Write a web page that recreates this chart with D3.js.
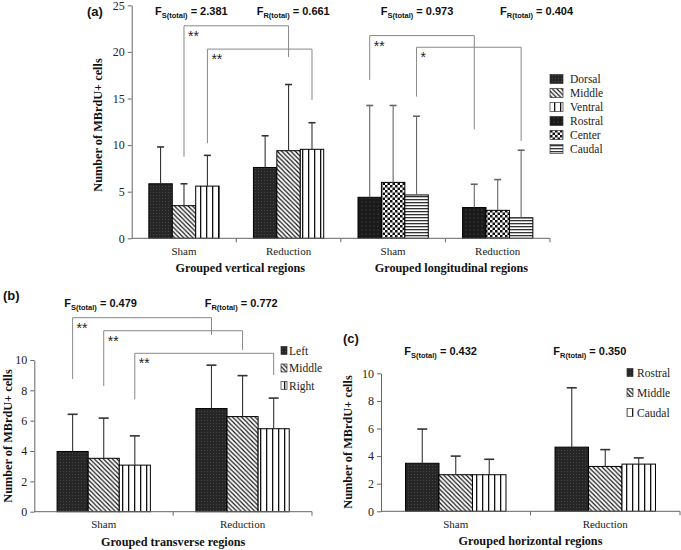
<!DOCTYPE html>
<html>
<head>
<meta charset="utf-8">
<script src="https://cdn.jsdelivr.net/npm/d3@7.9.0/dist/d3.min.js"></script>
<style>
  body { margin: 0; background: #fff; }
  svg { display: block; }
</style>
</head>
<body>
<svg id="chart" width="681" height="550"></svg>
<script>
// ---- data ----
const groups = ['Sham', 'Reduction'];

// (a) grouped vertical regions
const verticalSeries = ['Dorsal', 'Middle', 'Ventral'];
const verticalMeans = [[5.85, 3.5, 5.6], [7.6, 9.4, 9.55]];
const verticalSd = [[3.95, 2.35, 3.3], [3.4, 7.1, 2.85]];

// (a) grouped longitudinal regions
const longitudinalSeries = ['Rostral', 'Center', 'Caudal'];
const longitudinalMeans = [[4.4, 6.0, 4.65], [3.3, 3.0, 2.2]];
const longitudinalSd = [[9.85, 8.25, 8.45], [2.5, 3.3, 7.25]];

// (b) grouped transverse regions
const transverseSeries = ['Left', 'Middle', 'Right'];
const transverseMeans = [[3.97, 3.52, 3.07], [6.8, 6.27, 5.47]];
const transverseSd = [[2.45, 2.65, 1.93], [2.86, 2.7, 2.02]];

// (c) grouped horizontal regions
const horizontalSeries = ['Rostral', 'Middle', 'Caudal'];
const horizontalMeans = [[3.48, 2.65, 2.65], [4.65, 3.25, 3.42]];
const horizontalSd = [[2.48, 1.35, 1.12], [4.3, 1.22, 0.45]];

// F statistics (S = sham, R = reduction)
const fStatsA = [2.381, 0.661, 0.973, 0.404];
const fStatsB = [0.479, 0.772];
const fStatsC = [0.432, 0.350];

// significance brackets: same series Sham -> Reduction, heights in data units
const bracketsVertical = [
  { series: 1, top: 22.8, leftEnd: 8.75, rightEnd: 19.45, mark: '**' },
  { series: 2, top: 20.3, leftEnd: 10.2, rightEnd: 14.85, mark: '**' },
];
const bracketsLongitudinal = [
  { series: 0, top: 21.75, leftEnd: 17.0, rightEnd: 11.7, mark: '**' },
  { series: 2, top: 20.5, leftEnd: 15.2, rightEnd: 10.45, mark: '*' },
];
const bracketsTransverse = [
  { series: 0, top: 12.79, leftEnd: 8.75, rightEnd: 11.65, mark: '**' },
  { series: 1, top: 11.93, leftEnd: 8.29, rightEnd: 10.66, mark: '**' },
  { series: 2, top: 10.44, leftEnd: 7.41, rightEnd: 9.01, mark: '**' },
];

const serif = '"Liberation Serif", "Times New Roman", serif';
const sans = '"Liberation Sans", Arial, sans-serif';

const svg = d3.select('#chart');
const defs = svg.append('defs');

function addPattern(id, w, h, draw) {
  const p = defs.append('pattern')
    .attr('id', id)
    .attr('patternUnits', 'userSpaceOnUse')
    .attr('width', w)
    .attr('height', h);
  draw(p, w, h);
}

addPattern('dense', 3, 3, (p, w, h) => {
  p.append('rect').attr('width', w).attr('height', h).attr('fill', '#262626');
  p.append('rect').attr('width', 1).attr('height', 1).attr('fill', '#474747');
});
addPattern('diag', 4.5, 4.5, (p, w, h) => {
  p.append('rect').attr('width', w).attr('height', h).attr('fill', '#fff');
  p.append('path')
    .attr('d', 'M-1,-1L5.5,5.5M-1,3.5L1,5.5M3.5,-1L5.5,1')
    .attr('stroke', '#111').attr('stroke-width', 1.15);
});
addPattern('vert', 6, 6, (p, w, h) => {
  p.append('rect').attr('width', w).attr('height', h).attr('fill', '#fff');
  p.append('rect').attr('x', 2).attr('width', 1.3).attr('height', h).attr('fill', '#111');
});
addPattern('dots', 4, 4, (p, w, h) => {
  p.append('rect').attr('width', w).attr('height', h).attr('fill', '#1a1a1a');
  p.append('circle').attr('cx', 2).attr('cy', 2).attr('r', 0.6).attr('fill', '#5a5a5a');
});
addPattern('check', 5, 5, (p, w, h) => {
  p.append('rect').attr('width', w).attr('height', h).attr('fill', '#fff');
  p.append('rect').attr('width', 2.5).attr('height', 2.5).attr('fill', '#111');
  p.append('rect').attr('x', 2.5).attr('y', 2.5).attr('width', 2.5).attr('height', 2.5).attr('fill', '#111');
});
addPattern('horiz', 4, 3, (p, w, h) => {
  p.append('rect').attr('width', w).attr('height', h).attr('fill', '#fff');
  p.append('rect').attr('y', 1).attr('width', w).attr('height', 1.3).attr('fill', '#333');
});

const panels = [
  {
    label: '(a)', labelX: 87, labelY: 16,
    left: 131.7, right: 550, top: 5.3, bottom: 238.3, yMax: 25, yStep: 5,
    yTitleX: 97.5, yTitleY: 125, cap: 7,
    sections: [
      { title: 'Grouped vertical regions', series: verticalSeries, means: verticalMeans,
        sds: verticalSd, fills: ['dense', 'diag', 'vert'], err: '#333',
        brackets: bracketsVertical, titleShift: 4 },
      { title: 'Grouped longitudinal regions', series: longitudinalSeries, means: longitudinalMeans,
        sds: longitudinalSd, fills: ['dots', 'check', 'horiz'], err: '#666',
        brackets: bracketsLongitudinal, titleShift: 6 },
    ],
    stats: fStatsA, statX: [155, 256.7, 380.7, 500], statY: 15,
    legendX: 550, legendY: 79, legendStep: 14, swatchW: 13, swatchH: 9, legendTextX: 570,
  },
  {
    label: '(b)', labelX: 3, labelY: 300,
    left: 34.3, right: 312, top: 360, bottom: 511.7, yMax: 10, yStep: 2,
    yTitleX: 8, yTitleY: 436, cap: 10,
    sections: [
      { title: 'Grouped transverse regions', series: transverseSeries, means: transverseMeans,
        sds: transverseSd, fills: ['dense', 'diag', 'vert'], err: '#333',
        brackets: bracketsTransverse, titleShift: 0 },
    ],
    stats: fStatsB, statX: [64.3, 204.7], statY: 307,
    legendX: 281, legendY: 350.5, legendStep: 17.5, swatchW: 6, swatchH: 8, legendTextX: 289,
  },
  {
    label: '(c)', labelX: 343, labelY: 343,
    left: 381, right: 680, top: 373.3, bottom: 511.3, yMax: 10, yStep: 2,
    yTitleX: 348, yTitleY: 442, cap: 10,
    sections: [
      { title: 'Grouped horizontal regions', series: horizontalSeries, means: horizontalMeans,
        sds: horizontalSd, fills: ['dense', 'diag', 'vert'], err: '#333',
        brackets: [], titleShift: 0 },
    ],
    stats: fStatsC, statX: [404.3, 553.3], statY: 355,
    legendX: 627, legendY: 372.5, legendStep: 20, swatchW: 6, swatchH: 8, legendTextX: 637,
  },
];

function drawPanel(p) {
  const g = svg.append('g');
  const keys = p.sections.flatMap((s, i) => groups.map(name => `${i}|${name}`));
  const x = d3.scaleBand().domain(keys).range([p.left, p.right]);
  const y = d3.scaleLinear().domain([0, p.yMax]).range([p.bottom, p.top]);
  const bw = x.bandwidth();
  const inner = d3.scaleBand().domain([0, 1, 2]).range([bw * 0.164, bw * 0.836]);
  const center = (si, gi, k) => x(`${si}|${groups[gi]}`) + inner(k) + inner.bandwidth() / 2;

  // bars and error bars
  p.sections.forEach((s, si) => {
    const rows = groups.flatMap((name, gi) =>
      s.series.map((ser, k) => ({ gi, k, mean: s.means[gi][k], sd: s.sds[gi][k] })));

    g.append('g').selectAll('rect')
      .data(rows)
      .join('rect')
      .attr('x', d => x(`${si}|${groups[d.gi]}`) + inner(d.k))
      .attr('y', d => y(d.mean))
      .attr('width', inner.bandwidth())
      .attr('height', d => y(0) - y(d.mean))
      .attr('fill', d => `url(#${s.fills[d.k]})`)
      .attr('stroke', '#000')
      .attr('stroke-width', 1);

    const err = g.append('g').attr('stroke', s.err).attr('stroke-width', 1.1);
    err.selectAll('line.v')
      .data(rows)
      .join('line')
      .attr('class', 'v')
      .attr('x1', d => center(si, d.gi, d.k))
      .attr('x2', d => center(si, d.gi, d.k))
      .attr('y1', d => y(d.mean))
      .attr('y2', d => y(d.mean + d.sd));
    err.selectAll('line.c')
      .data(rows)
      .join('line')
      .attr('class', 'c')
      .attr('x1', d => center(si, d.gi, d.k) - p.cap / 2)
      .attr('x2', d => center(si, d.gi, d.k) + p.cap / 2)
      .attr('y1', d => y(d.mean + d.sd))
      .attr('y2', d => y(d.mean + d.sd))
      .attr('stroke-width', 1.6);

    // significance brackets
    s.brackets.forEach(b => {
      const x0 = center(si, 0, b.series);
      const x1 = center(si, 1, b.series);
      g.append('path')
        .attr('d', `M${x0},${y(b.leftEnd)}V${y(b.top)}H${x1}V${y(b.rightEnd)}`)
        .attr('fill', 'none')
        .attr('stroke', '#888')
        .attr('stroke-width', 1);
      g.append('text')
        .attr('x', x0 + 4)
        .attr('y', y(b.top) + 15)
        .attr('font-family', sans)
        .attr('font-size', 14)
        .attr('fill', '#222')
        .text(b.mark);
    });

    // section title
    g.append('text')
      .attr('x', x(`${si}|Sham`) + bw + s.titleShift)
      .attr('y', y(0) + 34)
      .attr('text-anchor', 'middle')
      .attr('font-family', serif)
      .attr('font-weight', 'bold')
      .attr('font-size', 12.2)
      .attr('fill', '#111')
      .text(s.title);
  });

  // y axis
  const yAxis = g.append('g')
    .attr('transform', `translate(${p.left},0)`)
    .call(d3.axisLeft(y)
      .tickValues(d3.range(0, p.yMax + 0.01, p.yStep))
      .tickSize(4)
      .tickSizeOuter(0)
      .tickPadding(3));
  yAxis.select('.domain').attr('stroke', '#666');
  yAxis.selectAll('.tick line').attr('stroke', '#666');
  yAxis.selectAll('.tick text')
    .attr('font-family', serif)
    .attr('font-size', 12)
    .attr('fill', '#222');

  // x axis: line, ticks between bands, group labels at centres
  g.append('line')
    .attr('x1', p.left).attr('x2', p.right)
    .attr('y1', y(0)).attr('y2', y(0))
    .attr('stroke', '#666');
  g.append('g').selectAll('line')
    .data(keys.slice(1).map(k => x(k)).concat([p.right]))
    .join('line')
    .attr('x1', d => d).attr('x2', d => d)
    .attr('y1', y(0)).attr('y2', y(0) + 4)
    .attr('stroke', '#666');
  g.append('g').selectAll('text')
    .data(keys)
    .join('text')
    .attr('x', k => x(k) + bw / 2)
    .attr('y', y(0) + 16.5)
    .attr('text-anchor', 'middle')
    .attr('font-family', serif)
    .attr('font-size', 11)
    .attr('fill', '#222')
    .text(k => k.split('|')[1]);

  // y title
  g.append('text')
    .attr('transform', `translate(${p.yTitleX},${p.yTitleY}) rotate(-90)`)
    .attr('text-anchor', 'middle')
    .attr('dy', '0.35em')
    .attr('font-family', serif)
    .attr('font-weight', 'bold')
    .attr('font-size', 12.3)
    .attr('fill', '#111')
    .text('Number of MBrdU+ cells');

  // panel label
  g.append('text')
    .attr('x', p.labelX)
    .attr('y', p.labelY)
    .attr('font-family', sans)
    .attr('font-weight', 'bold')
    .attr('font-size', 13)
    .attr('fill', '#111')
    .text(p.label);

  // F statistics
  p.stats.forEach((v, i) => {
    const t = g.append('text')
      .attr('x', p.statX[i])
      .attr('y', p.statY)
      .attr('font-family', sans)
      .attr('font-weight', 'bold')
      .attr('font-size', 11)
      .attr('fill', '#111');
    t.append('tspan').text('F');
    t.append('tspan').attr('font-size', 7.5).attr('dy', 2.5)
      .text(`${i % 2 === 0 ? 'S' : 'R'}(total)`);
    t.append('tspan').attr('dy', -2.5).text(` = ${d3.format('.3f')(v)}`);
  });

  // legend
  const items = p.sections.flatMap(s => s.series.map((name, k) => ({ name, fill: s.fills[k] })));
  const leg = g.append('g');
  items.forEach((d, i) => {
    const cy = p.legendY + i * p.legendStep;
    leg.append('rect')
      .attr('x', p.legendX)
      .attr('y', cy - p.swatchH / 2)
      .attr('width', p.swatchW)
      .attr('height', p.swatchH)
      .attr('fill', `url(#${d.fill})`)
      .attr('stroke', '#333')
      .attr('stroke-width', 0.7);
    leg.append('text')
      .attr('x', p.legendTextX)
      .attr('y', cy)
      .attr('dy', '0.35em')
      .attr('font-family', serif)
      .attr('font-size', 11.5)
      .attr('fill', '#222')
      .text(d.name);
  });
}

panels.forEach(drawPanel);
</script>
</body>
</html>
